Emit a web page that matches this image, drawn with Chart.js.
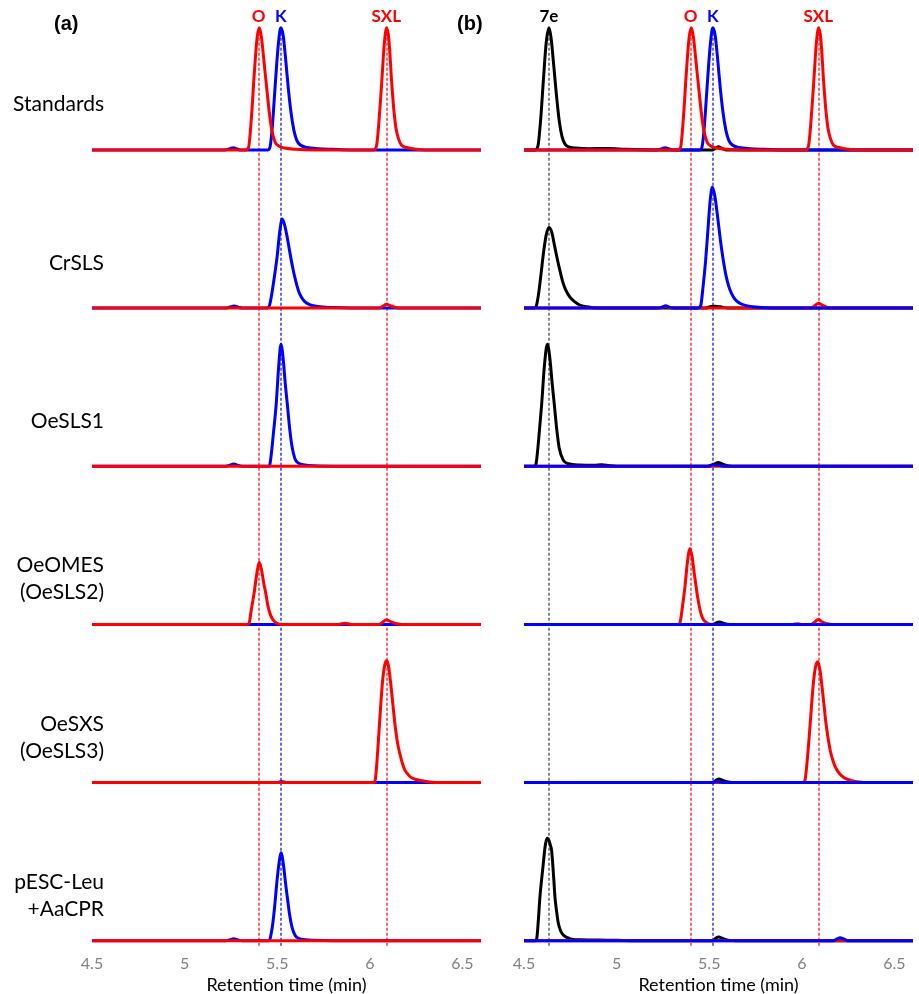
<!DOCTYPE html>
<html><head><meta charset="utf-8">
<script src="https://cdn.jsdelivr.net/npm/chart.js@4.4.1/dist/chart.umd.min.js"></script>
<style>
body{margin:0;background:#fff;width:919px;height:994px;overflow:hidden;position:relative;font-family:Lato,sans-serif}
canvas{position:absolute;top:0}
#cA{left:0}
#cB{left:500px}
.lbl{position:absolute;white-space:nowrap}
.row{font-size:21px;color:#000;text-align:right;line-height:27px;right:815px}
.pk{font-weight:bold;font-size:17px;line-height:17px}
.panel{font-family:"Liberation Sans",Arial,sans-serif;font-weight:bold;font-size:20px;line-height:20px}
</style></head><body>
<canvas id="cA" width="500" height="994"></canvas>
<canvas id="cB" width="419" height="994"></canvas>
<script>
// ---------- data (retention time in min, intensity in % of full row height) ----------
const xTickValues = [4.5, 5, 5.5, 6, 6.5];
const xTickLabels = ['4.5', '5', '5.5', '6', '6.5'];
const rowLabels = [['Standards'], ['CrSLS'], ['OeSLS1'], ['OeOMES', '(OeSLS2)'], ['OeSXS', '(OeSLS3)'], ['pESC-Leu', '+AaCPR']];
const markerNamesA = ['O', 'K', 'SXL'];
const markerTimesA = [5.40, 5.52, 6.09];
const markerNamesB = ['7e', 'O', 'K', 'SXL'];
const markerTimesB = [4.635, 5.40, 5.52, 6.09];
const FLAT = [[4.5,0],[6.6,0]];

// Panel (a)
const A1_RED = [[4.5,0],[5.33,0],[5.345,2],[5.36,25],[5.375,60],[5.39,90],[5.403,100],[5.415,92],[5.43,70],[5.445,48],[5.46,27],[5.475,13],[5.49,6],[5.51,3],[5.54,1.5],[5.6,0.5],[5.7,0],[6.022,0],[6.037,4],[6.05,25],[6.064,55],[6.078,87],[6.091,100],[6.103,90],[6.118,55],[6.13,32],[6.142,17],[6.155,9],[6.17,4],[6.2,2],[6.25,0.5],[6.3,0],[6.6,0]];
const A1_BLUE = [[4.5,0],[5.22,0],[5.245,1],[5.263,1.8],[5.28,1],[5.3,0],[5.45,0],[5.462,3],[5.475,22],[5.49,55],[5.505,85],[5.519,100],[5.532,94],[5.545,75],[5.56,50],[5.575,30],[5.59,16],[5.605,8],[5.625,4],[5.66,2],[5.72,1],[5.8,0.5],[5.9,0],[6.6,0]];
const A2_RED = [[4.5,0],[6.05,0],[6.07,1.5],[6.09,3.2],[6.11,2],[6.14,0.5],[6.17,0],[6.6,0]];
const A2_BLUE = [[4.5,0],[5.22,0],[5.245,0.8],[5.267,1.6],[5.29,0.8],[5.31,0],[5.445,0],[5.458,2],[5.47,11],[5.485,26],[5.5,43],[5.513,62],[5.527,73],[5.54,68],[5.555,57],[5.57,44],[5.585,32],[5.6,22],[5.615,14],[5.63,9],[5.65,5],[5.68,2.5],[5.72,1.2],[5.8,0.4],[5.9,0],[6.6,0]];
const A3_RED = FLAT;
const A3_BLUE = [[4.5,0],[5.22,0],[5.245,0.8],[5.265,1.8],[5.285,0.8],[5.31,0],[5.457,0],[5.468,10],[5.48,28],[5.494,50],[5.507,80],[5.52,100],[5.532,88],[5.545,65],[5.555,50],[5.567,31],[5.58,16],[5.596,6],[5.615,2.5],[5.65,1],[5.7,0.3],[5.8,0],[6.6,0]];
const A4_RED = [[4.5,0],[5.34,0],[5.349,1.5],[5.36,12],[5.375,25.5],[5.39,42],[5.403,51],[5.415,45],[5.427,34],[5.438,25.5],[5.45,15],[5.463,8],[5.476,4],[5.497,1],[5.52,0],[5.83,0],[5.866,1],[5.9,0],[6.05,0],[6.07,2],[6.09,3.5],[6.11,2.5],[6.14,0.7],[6.17,0],[6.6,0]];
const A4_BLUE = FLAT;
const A5_RED = [[4.5,0],[6.02,0],[6.03,3],[6.042,25],[6.055,55],[6.068,82],[6.08,96],[6.091,100],[6.1,96],[6.112,82],[6.125,63],[6.137,46],[6.15,32],[6.163,23],[6.175,16],[6.19,10],[6.205,7],[6.22,4.5],[6.25,2.5],[6.28,1.5],[6.32,0.5],[6.4,0],[6.6,0]];
const A5_BLUE = [[4.5,0],[5.5,0],[5.52,0.8],[5.55,0],[6.6,0]];
const A6_RED = FLAT;
const A6_BLUE = [[4.5,0],[5.22,0],[5.245,0.8],[5.265,1.6],[5.285,0.8],[5.31,0],[5.455,0],[5.462,2],[5.474,12],[5.486,28],[5.498,48],[5.51,64],[5.52,72],[5.532,64],[5.545,47],[5.555,35],[5.567,21],[5.58,11],[5.596,4.5],[5.615,2],[5.65,0.8],[5.7,0.3],[5.8,0],[6.6,0]];

// Panel (b)
const B1_BLACK = [[4.5,0],[4.56,0],[4.575,3],[4.59,25],[4.605,58],[4.62,88],[4.635,100],[4.646,92],[4.66,70],[4.675,45],[4.69,24],[4.705,11],[4.72,5],[4.74,2.5],[4.78,1.5],[4.85,1],[4.95,1.2],[5.05,0.5],[5.2,0],[5.52,0],[5.535,1.5],[5.55,2.5],[5.565,1.5],[5.59,0],[6.6,0]];
const B1_RED = A1_RED;
const B1_BLUE = A1_BLUE;
const B2_BLACK = [[4.5,0],[4.555,0],[4.567,2],[4.58,13],[4.592,28],[4.605,45],[4.62,60],[4.635,66],[4.65,62],[4.665,51],[4.68,40],[4.695,30],[4.71,21],[4.725,15],[4.748,9],[4.775,5],[4.8,2.5],[4.84,1],[4.9,0],[5.48,0],[5.51,1.2],[5.53,1.5],[5.56,1],[5.6,0],[6.6,0]];
const B2_RED = [[4.5,0],[5.23,0],[5.25,0.8],[5.265,1.2],[5.285,0.5],[5.3,0],[6.05,0],[6.07,2],[6.09,4],[6.11,2.5],[6.14,0.5],[6.17,0],[6.6,0]];
const B2_BLUE = [[4.5,0],[5.22,0],[5.245,0.8],[5.265,1.8],[5.285,0.8],[5.31,0],[5.44,0],[5.454,2],[5.467,18],[5.48,38],[5.492,62],[5.505,88],[5.517,99],[5.53,92],[5.545,75],[5.56,56],[5.575,40],[5.59,27],[5.605,18],[5.62,12],[5.64,7],[5.665,4],[5.7,2],[5.75,0.8],[5.85,0],[6.6,0]];
const B3_BLACK = [[4.5,0],[4.555,0],[4.565,2],[4.578,20],[4.595,50],[4.61,82],[4.626,100],[4.64,88],[4.652,68],[4.664,50],[4.677,30],[4.69,15],[4.712,5],[4.74,2],[4.8,1],[4.88,0.8],[4.92,1.3],[4.96,0.5],[5.0,0],[5.5,0],[5.525,1.5],[5.549,3],[5.57,1.8],[5.6,0.5],[5.65,0],[6.6,0]];
const B3_RED = FLAT;
const B3_BLUE = [[4.5,0],[5.49,0],[5.52,1.2],[5.54,1],[5.58,0],[6.6,0]];
const B4_BLACK = [[4.5,0],[5.52,0],[5.54,1.5],[5.555,2],[5.575,1],[5.61,0],[6.6,0]];
const B4_RED = [[4.5,0],[5.33,0],[5.342,1.5],[5.355,14],[5.369,31],[5.383,52],[5.396,62],[5.408,55],[5.419,42],[5.429,31],[5.44,20],[5.455,9],[5.468,4],[5.49,1],[5.51,0],[5.95,0],[5.98,0.5],[6.0,0],[6.05,0],[6.07,2],[6.088,4],[6.105,2.5],[6.13,0.7],[6.16,0],[6.6,0]];
const B4_BLUE = FLAT;
const B5_BLACK = [[4.5,0],[5.52,0],[5.538,2],[5.553,3],[5.57,2],[5.6,0.5],[5.65,0],[6.6,0]];
const B5_RED = [[4.5,0],[6.005,0],[6.017,2],[6.03,20],[6.045,48],[6.06,78],[6.074,95],[6.086,99],[6.098,92],[6.11,77],[6.12,63],[6.129,50],[6.14,38],[6.155,25],[6.17,17],[6.18,13],[6.195,9],[6.215,5.5],[6.24,3],[6.27,1.5],[6.31,0.5],[6.36,0],[6.6,0]];
const B5_BLUE = [[4.5,0],[5.52,0],[5.54,1],[5.57,0],[6.6,0]];
const B6_BLACK = [[4.5,0],[4.56,0],[4.569,2],[4.578,18],[4.586,36],[4.595,50],[4.604,63],[4.613,76],[4.62,82],[4.626,84],[4.635,82],[4.643,78],[4.649,74],[4.655,63],[4.661,50],[4.667,36],[4.676,24],[4.685,14.5],[4.698,8],[4.712,4.7],[4.735,2.5],[4.765,1],[4.8,0.8],[4.9,0.5],[5.0,0.3],[5.1,0],[5.52,0],[5.535,2],[5.552,3],[5.57,2],[5.6,0.5],[5.65,0],[6.6,0]];
const B6_RED = FLAT;
const B6_BLUE = [[4.5,0],[6.17,0],[6.19,1.5],[6.206,2.5],[6.225,1.5],[6.25,0],[6.6,0]];

// ---------- styling / building ----------
const RED = '#ff0000', BLUE = '#0000ff', BLACK = '#000000';
const FONT = 'Lato, "Noto Sans", sans-serif';
const ROW_IDS = ['r0','r1','r2','r3','r4','r5'];

function ds(points, color, row, order) {
  return {
    data: points.map(p => ({x: p[0], y: p[1]})),
    borderColor: color, borderWidth: 3, pointRadius: 0,
    cubicInterpolationMode: 'monotone', fill: false,
    yAxisID: ROW_IDS[row], order: order
  };
}

function rowScales() {
  const s = {};
  ROW_IDS.forEach(id => {
    s[id] = {
      type: 'linear', position: 'right', stack: 'rows', stackWeight: 1,
      min: -7.6, max: 122, display: true,
      grid: {display: false, drawTicks: false}, border: {display: false},
      ticks: {display: false}
    };
  });
  return s;
}

function makeRefPlugin(id, times, colors) {
  return {
    id: id,
    beforeDatasetsDraw(chart) {
      const ctx = chart.ctx, xs = chart.scales.x, top = chart.scales.r0.getPixelForValue(100);
      const bottom = chart.chartArea.bottom - 3;
      ctx.save();
      ctx.lineWidth = 1.7;
      ctx.setLineDash([3, 2]);
      times.forEach((t, i) => {
        const px = Math.round(xs.getPixelForValue(t));
        ctx.strokeStyle = colors[i];
        ctx.beginPath(); ctx.moveTo(px, top); ctx.lineTo(px, bottom); ctx.stroke();
      });
      ctx.restore();
    }
  };
}

function makeChart(canvasId, datasets, padL, padR, plugin) {
  const scales = Object.assign({
    x: {
      type: 'linear', position: 'bottom', min: 4.5, max: 6.6,
      grid: {display: false, drawTicks: false}, border: {display: false},
      afterBuildTicks: s => { s.ticks = xTickValues.map(v => ({value: v})); },
      ticks: {
        padding: 4.4, color: '#808080', font: {family: FONT, size: 16},
        maxRotation: 0, autoSkip: false,
        callback: (v) => { const i = xTickValues.indexOf(v); return i >= 0 ? xTickLabels[i] : ''; }
      },
      title: {display: true, text: 'Retention time (min)', color: '#000', font: {family: FONT, size: 18, lineHeight: 1}, padding: {top: -2, bottom: 0}}
    }
  }, rowScales());
  return new Chart(document.getElementById(canvasId), {
    type: 'line',
    data: {datasets: datasets},
    options: {
      responsive: false, animation: false, devicePixelRatio: 1,
      layout: {padding: {left: padL, right: padR, top: 1, bottom: 0}},
      plugins: {legend: {display: false}, tooltip: {enabled: false}},
      scales: scales
    },
    plugins: [plugin]
  });
}

const dashRed = 'rgba(255,0,0,0.7)', dashBlue = 'rgba(0,0,255,0.7)', dashGray = 'rgba(70,70,70,0.75)';

const dsA = [
  ds(A1_RED, RED, 0, 0), ds(A1_BLUE, BLUE, 0, 1),
  ds(A2_RED, RED, 1, 0), ds(A2_BLUE, BLUE, 1, 1),
  ds(A3_RED, RED, 2, 0), ds(A3_BLUE, BLUE, 2, 1),
  ds(A4_RED, RED, 3, 0), ds(A4_BLUE, BLUE, 3, 1),
  ds(A5_RED, RED, 4, 0), ds(A5_BLUE, BLUE, 4, 1),
  ds(A6_RED, RED, 5, 0), ds(A6_BLUE, BLUE, 5, 1)
];
const dsB = [
  ds(B1_RED, RED, 0, 0), ds(B1_BLUE, BLUE, 0, 1), ds(B1_BLACK, BLACK, 0, 2),
  ds(B2_BLUE, BLUE, 1, 0), ds(B2_RED, RED, 1, 1), ds(B2_BLACK, BLACK, 1, 2),
  ds(B3_BLUE, BLUE, 2, 0), ds(B3_RED, RED, 2, 1), ds(B3_BLACK, BLACK, 2, 2),
  ds(B4_BLUE, BLUE, 3, 0), ds(B4_RED, RED, 3, 1), ds(B4_BLACK, BLACK, 3, 2),
  ds(B5_BLUE, BLUE, 4, 0), ds(B5_RED, RED, 4, 1), ds(B5_BLACK, BLACK, 4, 2),
  ds(B6_BLUE, BLUE, 5, 0), ds(B6_RED, RED, 5, 1), ds(B6_BLACK, BLACK, 5, 2)
];

const chartA = makeChart('cA', dsA, 92, 19, makeRefPlugin('refA', markerTimesA, [dashRed, dashBlue, dashRed]));
const chartB = makeChart('cB', dsB, 24, 6, makeRefPlugin('refB', markerTimesB, [dashGray, dashRed, dashBlue, dashRed]));

// ---------- HTML text labels ----------
function addDiv(cls, html, styles) {
  const d = document.createElement('div');
  d.className = 'lbl ' + cls; d.innerHTML = html;
  Object.assign(d.style, styles);
  document.body.appendChild(d);
  return d;
}
rowLabels.forEach((lines, i) => {
  const yc = chartA.scales[ROW_IDS[i]].getPixelForValue(38.5);
  const d = addDiv('row', lines.join('<br>'), {});
  d.style.top = (yc - d.offsetHeight / 2) + 'px';
});
function peakLabels(chart, offsetX, names, times, colors) {
  const yc = chart.scales.r0.getPixelForValue(100) - 12;
  names.forEach((n, i) => {
    const d = addDiv('pk', n, {color: colors[i]});
    d.style.left = (offsetX + chart.scales.x.getPixelForValue(times[i]) - d.offsetWidth / 2) + 'px';
    d.style.top = (yc - d.offsetHeight / 2) + 'px';
  });
}
peakLabels(chartA, 0, markerNamesA, markerTimesA, [RED, BLUE, RED]);
peakLabels(chartB, 500, markerNamesB, markerTimesB, [BLACK, RED, BLUE, RED]);
addDiv('panel', '(a)', {left: '54px', top: '13px'});
addDiv('panel', '(b)', {left: '457px', top: '13px'});
</script></body></html>
